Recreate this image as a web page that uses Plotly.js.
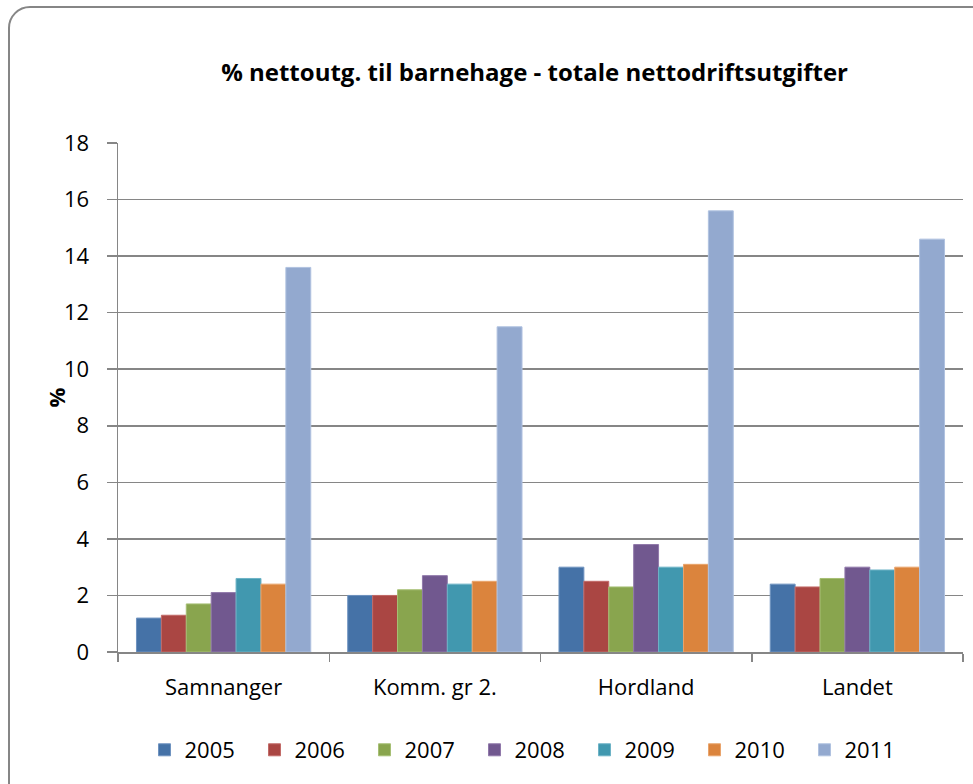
<!DOCTYPE html>
<html>
<head>
<meta charset="utf-8">
<script src="https://cdn.plot.ly/plotly-3.0.1.min.js"></script>
<style>
  html, body { margin:0; padding:0; width:973px; height:784px; overflow:hidden; background:#fff; }
  #chart { position:absolute; left:0; top:0; width:973px; height:784px; }
  #frame { position:absolute; left:8px; top:6px; width:1000px; height:1000px; border:2px solid #868686; border-radius:22px; pointer-events:none; box-sizing:border-box; }
</style>
</head>
<body>
<div id="chart"></div>
<div id="frame"></div>
<script>
const categories = ["Samnanger", "Komm. gr 2.", "Hordland", "Landet"];
const years = ["2005", "2006", "2007", "2008", "2009", "2010", "2011"];
const v2005 = [1.2, 2.0, 3.0, 2.4];
const v2006 = [1.3, 2.0, 2.5, 2.3];
const v2007 = [1.7, 2.2, 2.3, 2.6];
const v2008 = [2.1, 2.7, 3.8, 3.0];
const v2009 = [2.6, 2.4, 3.0, 2.9];
const v2010 = [2.4, 2.5, 3.1, 3.0];
const v2011 = [13.6, 11.5, 15.6, 14.6];
const yTicks = [0, 2, 4, 6, 8, 10, 12, 14, 16, 18];

const series = [v2005, v2006, v2007, v2008, v2009, v2010, v2011];
const colors = ["#4572A7", "#AA4643", "#89A54E", "#71588F", "#4198AF", "#DB843D", "#93A9CF"];
const edges  = ["#6f93c0", "#c26b68", "#a6bf74", "#9078aa", "#6db3c6", "#e9a46c", "#b0c2e0"];

const font = "Open Sans, Noto Sans, sans-serif";
const traces = series.map((vals, i) => ({
  type: "bar",
  name: years[i],
  x: categories,
  y: vals,
  marker: { color: colors[i], line: { color: edges[i], width: 1 } },
  hoverinfo: "x+y+name"
}));

const layout = {
  width: 973, height: 784,
  margin: { l: 118, r: 10, t: 143, b: 132 },
  paper_bgcolor: "rgba(0,0,0,0)",
  plot_bgcolor: "#fff",
  barmode: "group",
  bargap: 0.175,
  bargroupgap: 0,
  showlegend: true,
  title: {
    text: "<b>% nettoutg. til barnehage - totale nettodriftsutgifter</b>",
    font: { family: font, size: 24, color: "#000" },
    xref: "paper", x: 0.493, xanchor: "center",
    yref: "container", y: 1 - 73/784, yanchor: "middle"
  },
  xaxis: {
    type: "category",
    tickson: "boundaries",
    ticks: "outside", ticklen: 8, tickcolor: "#868686", tickwidth: 1.5,
    showline: true, linecolor: "#868686", linewidth: 1.5,
    showgrid: false,
    tickfont: { family: font, size: 22, color: "#000" },
    ticklabelstandoff: 15,
    automargin: false
  },
  yaxis: {
    range: [0, 18],
    tickvals: yTicks,
    ticktext: yTicks.map(String),
    ticks: "outside", ticklen: 10, tickcolor: "#868686", tickwidth: 1.5,
    showline: true, linecolor: "#868686", linewidth: 1.5,
    showgrid: true, gridcolor: "#868686", gridwidth: 1.5,
    zeroline: false,
    tickfont: { family: font, size: 22, color: "#000" },
    ticklabelstandoff: 13,
    automargin: false
  },
  annotations: [{
    text: "<b>%</b>", textangle: -90, showarrow: false,
    xref: "paper", x: (55 - 118) / 845, xanchor: "center",
    yref: "paper", y: 0.5, yanchor: "middle",
    font: { family: font, size: 22, color: "#000" }
  }],
  legend: {
    orientation: "h",
    x: 0.487, xanchor: "center",
    y: -98/509, yanchor: "middle",
    font: { family: font, size: 22, color: "#000" },
    entrywidth: 65, entrywidthmode: "pixels",
    itemwidth: 30,
    bgcolor: "rgba(0,0,0,0)"
  }
};

Plotly.newPlot("chart", traces, layout, { displayModeBar: false, staticPlot: true });
</script>
</body>
</html>
